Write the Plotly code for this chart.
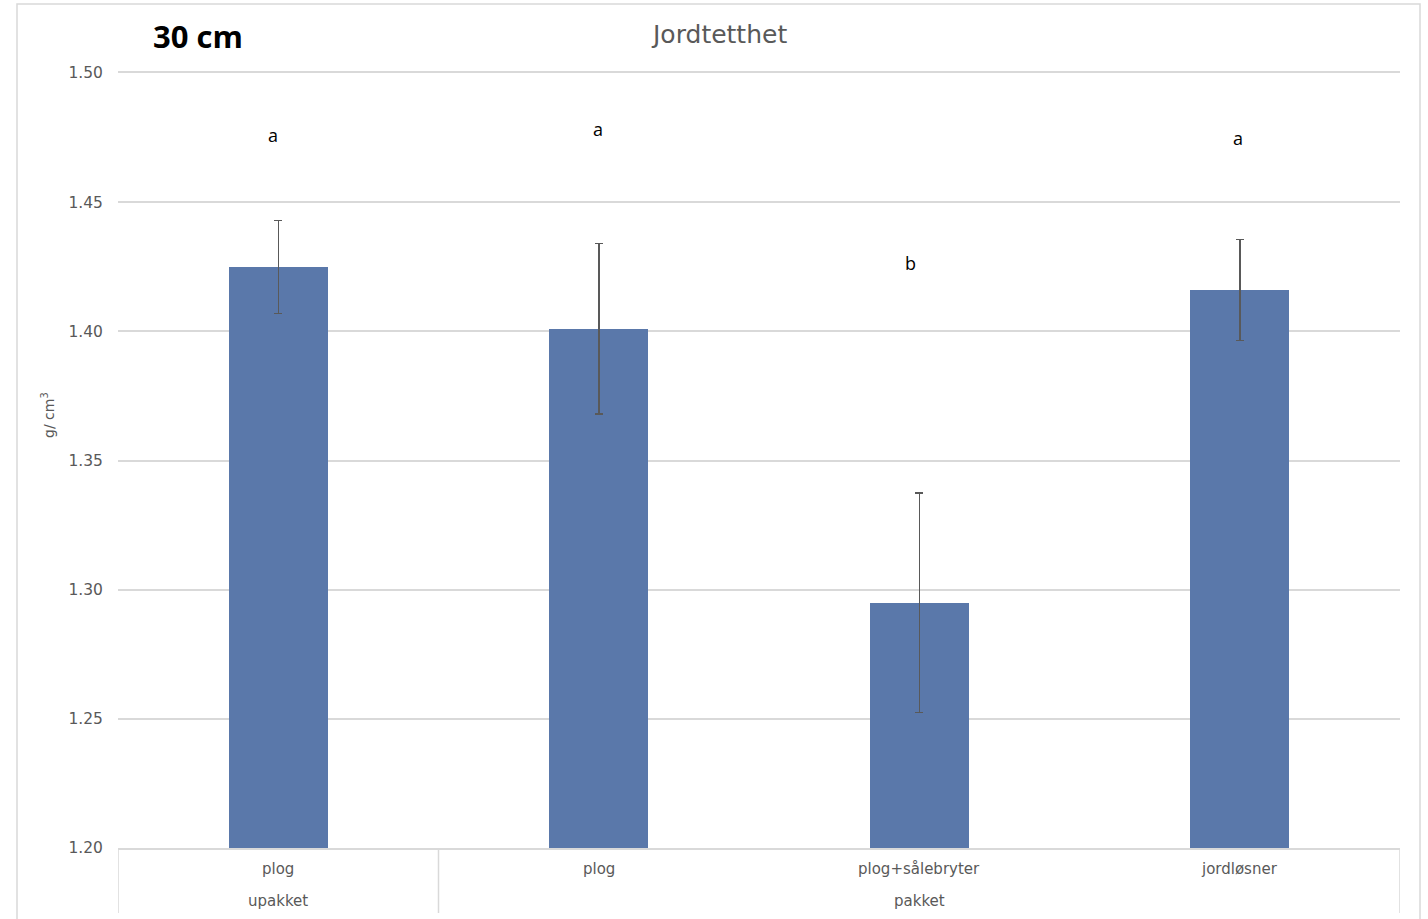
import plotly.graph_objects as go

# Soil bulk density at 30 cm depth, per treatment
groups = ["upakket", "pakket", "pakket", "pakket"]
treatments = ["plog", "plog", "plog+sålebryter", "jordløsner"]
density = [1.425, 1.401, 1.295, 1.416]
density_err = [0.018, 0.033, 0.0425, 0.0195]
letters = ["a", "a", "b", "a"]
letter_y = [1.476, 1.4785, 1.4265, 1.475]
letter_shift = [-5, -1, -9, -2]

y_ticks = [1.20, 1.25, 1.30, 1.35, 1.40, 1.45, 1.50]

W, H = 1428, 919
ML, MR, MT, MB = 118, 28, 73, 71
PW, PH = W - ML - MR, H - MT - MB

GRID = "#d9d9d9"
TEXT = "#595959"
BAR = "#5a78aa"
FONT = "DejaVu Sans"

xs = list(range(len(treatments)))

fig = go.Figure()
fig.add_trace(go.Bar(
    x=xs, y=density, width=0.31,
    marker=dict(color=BAR, line=dict(width=0)),
    error_y=dict(type="data", array=density_err, visible=True,
                 color=TEXT, thickness=1.5, width=4),
    hoverinfo="skip",
))

annotations = []
# significance letters
for i, (t, yy, sh) in enumerate(zip(letters, letter_y, letter_shift)):
    annotations.append(dict(x=i, y=yy, xref="x", yref="y", text=t,
                            showarrow=False, xshift=sh,
                            font=dict(family="Open Sans", size=18, color="black")))

# treatment labels (first row under axis)
for i, t in enumerate(treatments):
    annotations.append(dict(x=i, y=-(869 - 848) / PH, xref="x", yref="paper",
                            text=t, showarrow=False, yanchor="middle",
                            font=dict(family=FONT, size=15, color=TEXT)))

# group labels (second row) centred under their treatments
seen = []
for g in groups:
    if g not in seen:
        seen.append(g)
for g in seen:
    idx = [i for i, gg in enumerate(groups) if gg == g]
    annotations.append(dict(x=sum(idx) / len(idx), y=-(901 - 848) / PH,
                            xref="x", yref="paper", text=g, showarrow=False,
                            yanchor="middle",
                            font=dict(family=FONT, size=15, color=TEXT)))

# chart title, depth label and y-axis title
annotations.append(dict(x=(719 - ML) / PW, y=(848 - 35) / PH, xref="paper", yref="paper",
                        text="Jordtetthet", showarrow=False, xanchor="center", yanchor="middle",
                        font=dict(family=FONT, size=25, color=TEXT)))
annotations.append(dict(x=(151 - ML) / PW, y=(848 - 36) / PH, xref="paper", yref="paper",
                        text="<b>30 cm</b>", showarrow=False, xanchor="left", yanchor="middle",
                        font=dict(family="Open Sans", size=31, color="black")))
annotations.append(dict(x=(48 - ML) / PW, y=(848 - 415) / PH, xref="paper", yref="paper",
                        text="g/ cm<sup>3</sup>", showarrow=False, textangle=-90,
                        xanchor="center", yanchor="middle",
                        font=dict(family=FONT, size=14, color=TEXT)))

shapes = []
# group dividers below the axis
bounds = [-0.5]
for i in range(1, len(groups)):
    if groups[i] != groups[i - 1]:
        bounds.append(i - 0.5)
bounds.append(len(groups) - 0.5)
for b in bounds:
    shapes.append(dict(type="line", xref="x", yref="paper", x0=b, x1=b,
                       y0=0, y1=-(913 - 848) / PH, line=dict(color=GRID, width=1.5)))

# outer chart frame
shapes.append(dict(type="rect", xref="paper", yref="paper",
                   x0=(17 - ML) / PW, x1=(1420 - ML) / PW,
                   y0=-(930 - 848) / PH, y1=(848 - 4) / PH,
                   line=dict(color=GRID, width=1.5), fillcolor="rgba(0,0,0,0)", layer="below"))

fig.update_layout(
    width=W, height=H,
    margin=dict(l=ML, r=MR, t=MT, b=MB, pad=0),
    plot_bgcolor="white", paper_bgcolor="white",
    showlegend=False,
    bargap=0,
    annotations=annotations,
    shapes=shapes,
    xaxis=dict(range=[-0.5, len(treatments) - 0.5], showticklabels=False,
               showgrid=False, zeroline=False, ticks="",
               showline=True, mirror=True, linecolor=GRID, linewidth=1.5),
    yaxis=dict(range=[1.20, 1.50], tickvals=y_ticks,
               ticktext=[f"{v:.2f}" for v in y_ticks],
               showgrid=True, gridcolor=GRID, gridwidth=1.5,
               zeroline=False, showline=False,
               ticks="outside", ticklen=11, tickcolor="rgba(0,0,0,0)",
               tickfont=dict(family=FONT, size=15.5, color=TEXT)),
)

fig.write_html("out.html")
